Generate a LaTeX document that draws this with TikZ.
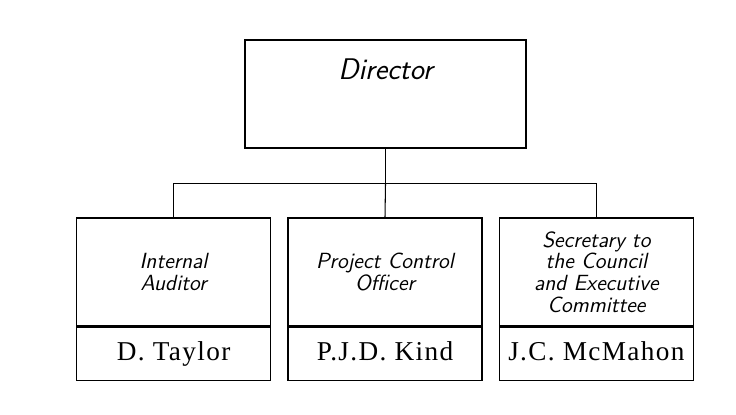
\documentclass[tikz,border=0pt]{standalone}
\usepackage{fontspec}
\newfontfamily\namefont[LetterSpace=5]{Liberation Serif}
\usetikzlibrary{positioning}

\begin{document}
\begin{tikzpicture}[
    box/.style={draw, line width=0.8pt, minimum width=3.88cm, inner sep=0pt},
    rolebox/.style={box, minimum height=2.16cm, align=center,
      font=\fontsize{12.5}{12.4}\selectfont\sffamily\itshape},
    namebox/.style={box, minimum height=1.06cm, text height=10pt, text depth=2pt,
      font=\fontsize{15.5}{17}\selectfont\namefont},
    link/.style={line width=0.6pt}
  ]
    \useasboundingbox (0,0) rectangle (14.72,8.28);

    % Director box, label sits in its upper part
    \node[box, minimum width=5.62cm, minimum height=2.16cm] (dir) at (7.71,6.4) {};
    \node[font=\fontsize{17}{19}\selectfont\sffamily\itshape] (dirlabel)
      at ([yshift=-0.6cm]dir.north) {Director};

    % Posts reporting to the director
    \node[rolebox] (officer) at (7.7,2.84) {Project Control\\Officer};
    \node[rolebox, left=0.32cm of officer] (auditor) {Internal\\Auditor};
    \node[rolebox, right=0.32cm of officer] (secretary)
      {Secretary to\\the Council\\and Executive\\Committee};

    % Names underneath
    \node[namebox, below=0pt of auditor] (taylor) {D.\ Taylor};
    \node[namebox, below=0pt of officer] (kind) {P.J.D. Kind};
    \node[namebox, below=0pt of secretary] (mcmahon) {J.C. McMahon};

    % Connectors
    \draw[link] (dir.south) -- ++(0,-0.7) coordinate (split);
    \draw[link] (split) -| (auditor.north);
    \draw[link] (split) -| (secretary.north);
    \draw[link] (split) -- (officer.north);
\end{tikzpicture}
\end{document}
